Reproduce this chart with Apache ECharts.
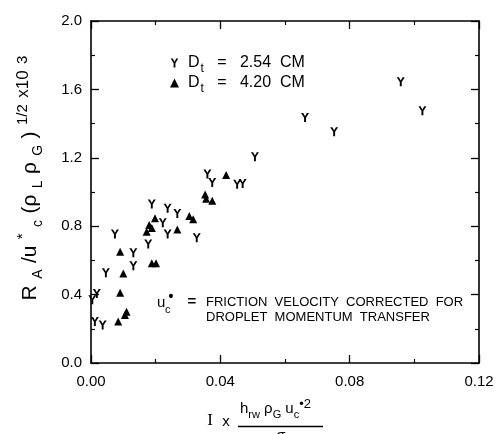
<!DOCTYPE html>
<html><head><meta charset="utf-8">
<script src="https://cdn.jsdelivr.net/npm/echarts@6/dist/echarts.min.js"></script>
<style>html,body{margin:0;padding:0;background:#fff}#c{width:502px;height:434px}</style>
</head><body><div id="c"></div>
<script>
// ---- data ----
const seriesNames = ['Dt = 2.54 CM', 'Dt = 4.20 CM'];
const legendValues = ['2.54', '4.20'];
const xTickLabels = ['0.00', '0.04', '0.08', '0.12'];
const yTickLabels = ['0.0', '0.4', '0.8', '1.2', '1.6', '2.0'];
// D_t = 2.54 cm (Y markers)
const d254X = [0.0958, 0.1025, 0.0662, 0.0752, 0.0507, 0.0360, 0.0375, 0.0452, 0.0469, 0.0188,
               0.0237, 0.0267, 0.0222, 0.0237, 0.0327, 0.0074, 0.0177, 0.0131, 0.0131, 0.0046,
               0.0018, 0.0004, 0.0012, 0.0036];
const d254Y = [1.645, 1.475, 1.436, 1.353, 1.206, 1.105, 1.055, 1.045, 1.050, 0.930,
               0.905, 0.875, 0.820, 0.754, 0.733, 0.754, 0.696, 0.645, 0.569, 0.528,
               0.407, 0.370, 0.242, 0.222];
// D_t = 4.20 cm (triangles)
const d420X = [0.0418, 0.0353, 0.0356, 0.0375, 0.0198, 0.0180, 0.0188, 0.0172, 0.0267, 0.0304,
               0.0316, 0.0090, 0.0100, 0.0188, 0.0201, 0.0090, 0.0110, 0.0105, 0.0084];
const d420Y = [1.099, 0.985, 0.960, 0.949, 0.846, 0.807, 0.790, 0.768, 0.780, 0.860,
               0.840, 0.651, 0.524, 0.583, 0.583, 0.411, 0.300, 0.280, 0.242];

const zip = (xs, ys) => xs.map((x, i) => [x, ys[i]]);
const FONT = 'Liberation Sans, Arial, sans-serif';
const ySym = 'path://M0,0L2.7,0L5,4.3L7.3,0L10,0L6.2,6.3L6.2,12L3.8,12L3.8,6.3Z';

const chart = echarts.init(document.getElementById('c'), null, {renderer: 'canvas'});

const axisCommon = () => ({
  type: 'value',
  axisLine: {show: true, onZero: false, lineStyle: {color: '#000', width: 1.6}},
  axisTick: {show: true, inside: true, length: 8, lineStyle: {color: '#000', width: 1.3}},
  minorTick: {show: true, splitNumber: 2, length: 4, lineStyle: {color: '#000', width: 1.2}},
  splitLine: {show: false},
  minorSplitLine: {show: false}
});

chart.setOption({
  animation: false,
  backgroundColor: '#fff',
  grid: {left: 91, right: 23, top: 21, bottom: 71, containLabel: false, outerBoundsMode: 'none'},
  xAxis: [
    Object.assign(axisCommon(), {
      position: 'bottom', min: 0, max: 0.12, interval: 0.04,
      axisLabel: {show: true, margin: 11, color: '#000', fontSize: 15, fontFamily: FONT,
        formatter: v => xTickLabels[Math.round(v / 0.04)]}
    }),
    Object.assign(axisCommon(), {
      position: 'top', min: 0, max: 0.12, interval: 0.04, axisLabel: {show: false}
    })
  ],
  yAxis: [
    Object.assign(axisCommon(), {
      position: 'left', min: 0, max: 2, interval: 0.4,
      axisLabel: {show: true, margin: 9, color: '#000', fontSize: 15, fontFamily: FONT,
        formatter: v => yTickLabels[Math.round(v / 0.4)]}
    }),
    Object.assign(axisCommon(), {
      position: 'right', min: 0, max: 2, interval: 0.4, axisLabel: {show: false}
    })
  ],
  legend: {
    show: true, orient: 'vertical', left: 165, top: 50, itemGap: 0,
    itemWidth: 9, itemHeight: 9,
    data: seriesNames,
    formatter: name => {
      const v = legendValues[seriesNames.indexOf(name)];
      return '{g|}{d|D}{t|t}{d|   =   ' + v + '  CM}';
    },
    textStyle: {
      color: '#000', fontFamily: FONT,
      rich: {
        g: {width: 4, height: 10},
        d: {fontSize: 16, lineHeight: 20, verticalAlign: 'middle', color: '#000', fontFamily: FONT},
        t: {fontSize: 12, lineHeight: 12, verticalAlign: 'bottom', color: '#000', fontFamily: FONT, padding: [0, 0, -2, 1]}
      }
    }
  },
  series: [
    {
      name: seriesNames[0], type: 'scatter', xAxisIndex: 0, yAxisIndex: 0,
      symbol: ySym, symbolSize: [8, 9],
      itemStyle: {color: '#000', opacity: 1},
      data: zip(d254X, d254Y)
    },
    {
      name: seriesNames[1], type: 'scatter', xAxisIndex: 0, yAxisIndex: 0,
      symbol: 'triangle', symbolSize: [8, 8],
      itemStyle: {color: '#000', opacity: 1},
      data: zip(d420X, d420Y)
    }
  ],
  graphic: [
    // y axis title (rotated)
    {
      type: 'text', x: 30, y: 178, rotation: Math.PI / 2,
      style: {
        text: '{a|R}{s|A}{a|/u}{p|*}{s|c}{a|(ρ}{s|L}{a|ρ}{s|G}{a|)}{p|1/2}{m|x10}{p|3}',
        align: 'center', verticalAlign: 'middle', fill: '#000',
        rich: {
          a: {fontSize: 21, lineHeight: 30, verticalAlign: 'middle', fontFamily: FONT, fill: '#000', padding: [0, 3.2]},
          s: {fontSize: 14, lineHeight: 13, verticalAlign: 'bottom', fontFamily: FONT, fill: '#000', padding: [0, 3.2]},
          p: {fontSize: 15, lineHeight: 14, verticalAlign: 'top', fontFamily: FONT, fill: '#000', padding: [0, 3.2]},
          m: {fontSize: 17, lineHeight: 22, verticalAlign: 'top', fontFamily: FONT, fill: '#000', padding: [0, 3.2]}
        }
      }
    },
    // x axis title
    {type: 'text', x: 210, y: 421, style: {text: 'I', font: '17px Liberation Serif, serif', fill: '#000', align: 'center', verticalAlign: 'middle'}},
    {type: 'text', x: 226, y: 422, style: {text: 'x', font: '15px ' + FONT, fill: '#000', align: 'center', verticalAlign: 'middle'}},
    {
      type: 'text', x: 240, y: 409,
      style: {
        text: '{a|h}{s|rw}{a| ρ}{s|G}{a| u}{s|c}{p|•2}',
        align: 'left', verticalAlign: 'middle', fill: '#000',
        rich: {
          a: {fontSize: 15, lineHeight: 22, verticalAlign: 'middle', fontFamily: FONT, fill: '#000'},
          s: {fontSize: 11, lineHeight: 11, verticalAlign: 'bottom', fontFamily: FONT, fill: '#000'},
          p: {fontSize: 13, lineHeight: 13, verticalAlign: 'top', fontFamily: FONT, fill: '#000'}
        }
      }
    },
    {type: 'line', shape: {x1: 238, y1: 426.5, x2: 323, y2: 426.5}, style: {stroke: '#000', lineWidth: 1.5}},
    {type: 'text', x: 281, y: 428, style: {text: 'σ', font: '15px ' + FONT, fill: '#000', align: 'center', verticalAlign: 'top'}},
    // annotation
    {type: 'text', x: 157, y: 303, style: {text: 'u', font: '15px ' + FONT, fill: '#000', align: 'left', verticalAlign: 'middle'}},
    {type: 'text', x: 165, y: 310, style: {text: 'c', font: '11px ' + FONT, fill: '#000', align: 'left', verticalAlign: 'middle'}},
    {type: 'text', x: 171, y: 297, style: {text: '•', font: 'bold 14px ' + FONT, fill: '#000', align: 'center', verticalAlign: 'middle'}},
    {type: 'text', x: 192, y: 302, style: {text: '=', font: 'bold 15px ' + FONT, fill: '#000', align: 'center', verticalAlign: 'middle'}},
    {type: 'text', x: 206, y: 302, style: {text: 'FRICTION  VELOCITY  CORRECTED  FOR', font: '13px ' + FONT, fill: '#000', align: 'left', verticalAlign: 'middle'}},
    {type: 'text', x: 206, y: 317, style: {text: 'DROPLET  MOMENTUM  TRANSFER', font: '13px ' + FONT, fill: '#000', align: 'left', verticalAlign: 'middle'}}
  ]
});
</script>
</body></html>
